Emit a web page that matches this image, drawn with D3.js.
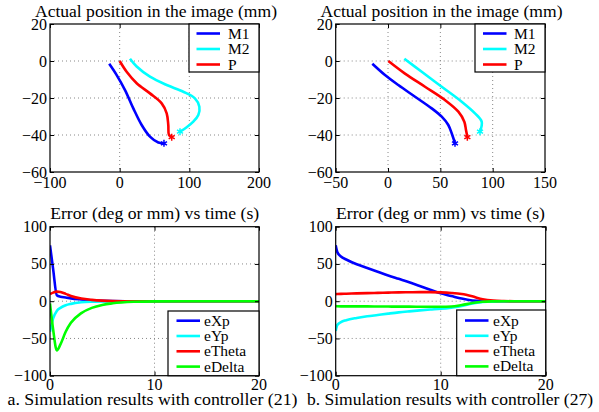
<!DOCTYPE html>
<html><head><meta charset="utf-8">
<script src="https://cdn.jsdelivr.net/npm/d3@7"></script>
<style>
html,body{margin:0;padding:0;background:#fff;}
svg{display:block;font-family:"Liberation Serif","Times New Roman",Times,serif;}
</style></head>
<body>
<svg id="c" width="599" height="412"></svg>
<script>
// ---------- Data ----------
// Top-left (controller 21): trajectories in the image (mm)
const a_M1_x = [-15, -4.3, 7.7, 19.6, 31.6, 43.5, 55.5, 63.6];
const a_M1_y = [-1.5, -7.6, -15.7, -25.6, -34.6, -40.9, -44.1, -44.5];
const a_M2_x = [14.8, 24.4, 43.5, 67.5, 91.3, 108, 114.4, 112.9, 105.7, 96.2, 86.6];
const a_M2_y = [1.2, -3, -8.5, -13, -16.6, -20.2, -24.7, -29.2, -32.8, -35.8, -38.2];
const a_P_x  = [0, 10, 24.4, 43.5, 60.3, 67.5, 69.8, 70.8, 74.7];
const a_P_y  = [0, -5.8, -12, -17.5, -22.9, -28.3, -34.6, -40, -41.2];
// Top-right (controller 27)
const b_M1_x = [-15, -2.9, 9.8, 25.8, 41.7, 51.3, 57.6, 61.4, 64];
const b_M1_y = [-1.5, -7.6, -13, -19.3, -25.6, -30.1, -34.6, -40, -44.5];
const b_M2_x = [15.6, 32.2, 51.3, 70.4, 83.1, 89.5, 87.9];
const b_M2_y = [1.2, -5.8, -13.9, -22, -28.3, -32.8, -38.2];
const b_P_x  = [0.3, 16.2, 35.3, 54.4, 67.2, 72.9, 74.5, 75.8];
const b_P_y  = [0, -6.8, -13.9, -21.1, -27.4, -32.8, -37.3, -41.2];
// Bottom-left errors vs time (controller 21)
const a_t      = [0, 0.3, 0.65, 1.0, 1.5, 2, 3, 4, 5, 6, 8, 10, 15, 20];
const a_eXp    = [75, 43, 8, 6, 5, 3.8, 2.3, 1.1, 0.5, 0.2, 0, 0, 0, 0];
const a_eYp    = [-41, -23, -13, -9, -5.5, -3.6, -1.5, -0.6, -0.2, 0, 0, 0, 0, 0];
const a_eTheta = [9.5, 11.5, 12.8, 12.3, 9.8, 7, 3.5, 1.8, 0.8, 0.3, 0, 0, 0, 0];
const a_eDelta = [-3, -38, -66, -58, -41, -29, -16, -9, -5, -2.8, -0.8, -0.2, 0, 0];
// Bottom-right errors vs time (controller 27)
const b_t      = [0, 0.15, 0.5, 1, 2, 3, 4, 5, 6, 7, 8, 9, 10, 11, 12, 13, 14, 15, 16, 17, 18, 20];
const b_eXp    = [75, 66, 60, 56, 49.5, 44.5, 39.5, 34.5, 30, 25.5, 20.5, 15.5, 10.5, 7, 3.5, 1, 0.2, 0, 0, 0, 0, 0];
const b_eYp    = [-40, -32, -28, -25.5, -22.5, -20.3, -18.5, -16.7, -15, -13.6, -12.3, -11.2, -10.2, -8.6, -6.5, -3, -1, -0.2, 0, 0, 0, 0];
const b_eTheta = [9.5, 9.6, 9.8, 10, 10.5, 10.9, 11.2, 11.5, 11.8, 12, 12.2, 12.2, 11.9, 11.1, 9.6, 6.5, 2.6, 0.8, 0.2, 0, 0, 0];
const b_eDelta = [-6.5, -6.8, -7, -7, -7, -7, -7.1, -7.2, -7.3, -7.3, -7.4, -7.5, -7.5, -7.2, -5.2, -2.5, -0.8, -0.2, 0, 0, 0, 0];

const posNames = ["M1", "M2", "P"];
const errNames = ["eXp", "eYp", "eTheta", "eDelta"];
const posColors = ["#0000ff", "#00ffff", "#ff0000"];
const errColors = ["#0000ff", "#00ffff", "#ff0000", "#00ff00"];

const aPosXTicks = [-100, 0, 100, 200];
const bPosXTicks = [-50, 0, 50, 100, 150];
const posYTicks = [-60, -40, -20, 0, 20];
const errXTicks = [0, 10, 20];
const errYTicks = [-100, -50, 0, 50, 100];

const posTitle = "Actual position in the image (mm)";
const errTitle = "Error (deg or mm) vs time (s)";
const captions = ["a. Simulation results with controller (21)", "b. Simulation results with controller (27)"];

// ---------- Drawing ----------
const svg = d3.select("#c");

function panel(o) {
  const g = svg.append("g");
  const x = d3.scaleLinear().domain(o.xd).range([o.x0, o.x1]);
  const y = d3.scaleLinear().domain(o.yd).range([o.y1, o.y0]);
  // grid
  o.xt.forEach(v => {
    if (v === o.xd[0] || v === o.xd[1]) return;
    g.append("line").attr("x1", x(v)).attr("x2", x(v)).attr("y1", o.y0).attr("y2", o.y1)
      .attr("stroke", "#888").attr("stroke-width", 1).attr("stroke-dasharray", "1,3");
  });
  o.yt.forEach(v => {
    if (v === o.yd[0] || v === o.yd[1]) return;
    g.append("line").attr("y1", y(v)).attr("y2", y(v)).attr("x1", o.x0).attr("x2", o.x1)
      .attr("stroke", "#888").attr("stroke-width", 1).attr("stroke-dasharray", "1,3");
  });
  // series
  const clipId = "clip" + Math.round(o.x0) + "_" + Math.round(o.y0);
  svg.append("clipPath").attr("id", clipId).append("rect")
    .attr("x", o.x0).attr("y", o.y0).attr("width", o.x1 - o.x0).attr("height", o.y1 - o.y0);
  const sg = g.append("g").attr("clip-path", `url(#${clipId})`);
  o.series.forEach(s => {
    const pts = s.xs.map((v, i) => [v, s.ys[i]]);
    const line = d3.line().x(d => x(d[0])).y(d => y(d[1])).curve(o.curve);
    sg.append("path").attr("d", line(pts)).attr("fill", "none")
      .attr("stroke", s.color).attr("stroke-width", 2.6).attr("stroke-linejoin", "round");
    if (o.star) {
      const e = pts[pts.length - 1];
      sg.append("path").attr("d", d3.symbol().type(d3.symbolAsterisk).size(34)())
        .attr("transform", `translate(${x(e[0])},${y(e[1])})`)
        .attr("fill", "none").attr("stroke", s.color).attr("stroke-width", 1.5);
    }
  });
  // axes ticks (inward) on all sides
  const ax = d3.axisBottom(x).tickValues(o.xt).tickSize(-4).tickFormat("");
  const axT = d3.axisTop(x).tickValues(o.xt).tickSize(-4).tickFormat("");
  const ay = d3.axisLeft(y).tickValues(o.yt).tickSize(-4).tickFormat("");
  const ayR = d3.axisRight(y).tickValues(o.yt).tickSize(-4).tickFormat("");
  [[ax, `translate(0,${o.y1})`], [axT, `translate(0,${o.y0})`], [ay, `translate(${o.x0},0)`], [ayR, `translate(${o.x1},0)`]]
    .forEach(([a, t]) => {
      const ag = g.append("g").attr("transform", t).call(a);
      ag.select(".domain").remove();
      ag.selectAll("line").attr("stroke", "#000");
    });
  // frame
  g.append("rect").attr("x", o.x0).attr("y", o.y0).attr("width", o.x1 - o.x0).attr("height", o.y1 - o.y0)
    .attr("fill", "none").attr("stroke", "#000").attr("stroke-width", 1.2);
  // tick labels
  const fmt = v => (v < 0 ? "\u2212" + Math.abs(v) : String(v));
  o.xt.forEach(v => {
    g.append("text").attr("x", x(v)).attr("y", o.y1 + o.xlOff).attr("text-anchor", "middle")
      .attr("font-size", 16).text(fmt(v));
  });
  o.yt.forEach(v => {
    g.append("text").attr("x", o.x0 - 3).attr("y", y(v) + 5.5).attr("text-anchor", "end")
      .attr("font-size", 16).text(fmt(v));
  });
  // title
  g.append("text").attr("x", o.tcx).attr("y", o.y0 - 7.5).attr("text-anchor", "middle")
    .attr("font-size", 17.5).attr("textLength", o.tw).attr("lengthAdjust", "spacingAndGlyphs").text(o.title);
  // legend
  const L = o.legend;
  g.append("rect").attr("x", L.x0).attr("y", L.y0).attr("width", L.x1 - L.x0).attr("height", L.y1 - L.y0)
    .attr("fill", "#fff").attr("stroke", "#000").attr("stroke-width", 1.2);
  o.series.forEach((s, i) => {
    const yy = L.y0 + L.first + i * L.step;
    g.append("line").attr("x1", L.lx0).attr("x2", L.lx1).attr("y1", yy).attr("y2", yy)
      .attr("stroke", s.color).attr("stroke-width", 2.6);
    g.append("text").attr("x", L.tx).attr("y", yy + 5).attr("font-size", 15.5).text(s.name);
  });
  return g;
}

panel({
  x0: 50, x1: 259, y0: 24, y1: 172, xd: [-100, 200], yd: [-60, 20], xlOff: 16, tcx: 156, tw: 242,
  xt: aPosXTicks, yt: posYTicks, title: posTitle, star: true, curve: d3.curveCatmullRom,
  series: [
    {name: posNames[0], color: posColors[0], xs: a_M1_x, ys: a_M1_y},
    {name: posNames[1], color: posColors[1], xs: a_M2_x, ys: a_M2_y},
    {name: posNames[2], color: posColors[2], xs: a_P_x, ys: a_P_y}
  ],
  legend: {x0: 189, x1: 259, y0: 24, y1: 72, first: 9.5, step: 15.5, lx0: 196.5, lx1: 220, tx: 228}
});
panel({
  x0: 335.7, x1: 545, y0: 24, y1: 172, xd: [-50, 150], yd: [-60, 20], xlOff: 16, tcx: 441.5, tw: 242,
  xt: bPosXTicks, yt: posYTicks, title: posTitle, star: true, curve: d3.curveCatmullRom,
  series: [
    {name: posNames[0], color: posColors[0], xs: b_M1_x, ys: b_M1_y},
    {name: posNames[1], color: posColors[1], xs: b_M2_x, ys: b_M2_y},
    {name: posNames[2], color: posColors[2], xs: b_P_x, ys: b_P_y}
  ],
  legend: {x0: 475, x1: 545, y0: 24, y1: 72, first: 9.5, step: 15.5, lx0: 483, lx1: 506.5, tx: 514}
});
panel({
  x0: 50, x1: 259, y0: 226.7, y1: 375.7, xd: [0, 20], yd: [-100, 100], xlOff: 14, tcx: 154.7, tw: 209,
  xt: errXTicks, yt: errYTicks, title: errTitle, star: false, curve: d3.curveMonotoneX,
  series: errNames.map((n, i) => ({name: n, color: errColors[i], xs: a_t,
    ys: [a_eXp, a_eYp, a_eTheta, a_eDelta][i]})),
  legend: {x0: 168, x1: 259, y0: 311, y1: 375.7, first: 9.7, step: 15.3, lx0: 176.5, lx1: 200, tx: 204}
});
panel({
  x0: 335.7, x1: 545.7, y0: 226.7, y1: 375.7, xd: [0, 20], yd: [-100, 100], xlOff: 14, tcx: 440.5, tw: 209,
  xt: errXTicks, yt: errYTicks, title: errTitle, star: false, curve: d3.curveMonotoneX,
  series: errNames.map((n, i) => ({name: n, color: errColors[i], xs: b_t,
    ys: [b_eXp, b_eYp, b_eTheta, b_eDelta][i]})),
  legend: {x0: 456.7, x1: 545.7, y0: 310, y1: 375.7, first: 10.5, step: 15.3, lx0: 465, lx1: 488.5, tx: 493}
});

// captions
svg.append("text").attr("x", 152.5).attr("y", 405).attr("text-anchor", "middle").attr("font-size", 17.3)
  .attr("textLength", 290).attr("lengthAdjust", "spacingAndGlyphs").text(captions[0]);
svg.append("text").attr("x", 450).attr("y", 405).attr("text-anchor", "middle").attr("font-size", 17.3)
  .attr("textLength", 286).attr("lengthAdjust", "spacingAndGlyphs").text(captions[1]);
</script>
</body></html>
